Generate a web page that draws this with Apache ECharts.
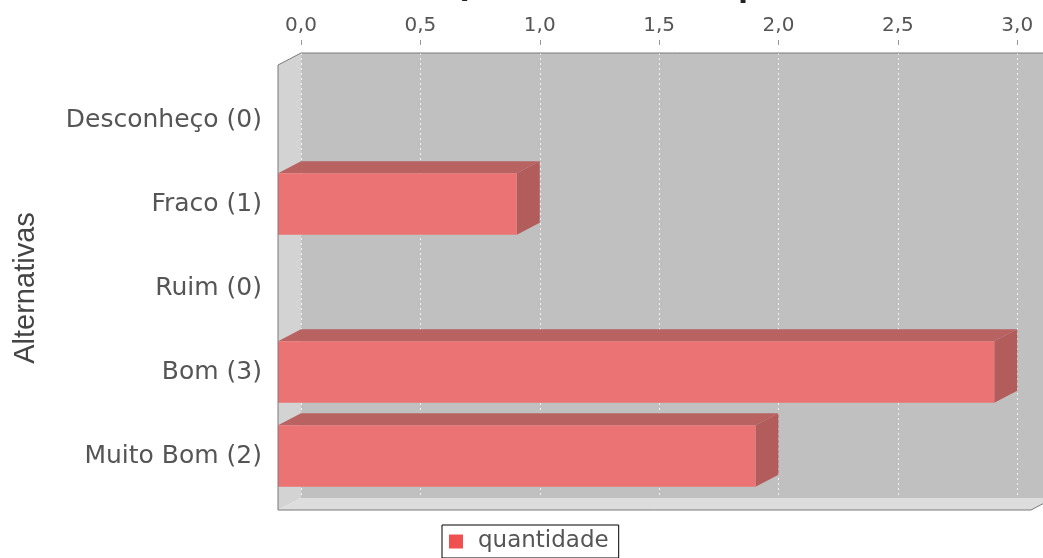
<!DOCTYPE html>
<html>
<head>
<meta charset="utf-8">
<script src="https://cdn.jsdelivr.net/npm/echarts@6/dist/echarts.min.js"></script>
<style>
  html, body { margin: 0; padding: 0; background: #fff; }
  #chart { width: 1043px; height: 558px; }
</style>
</head>
<body>
<div id="chart"></div>
<script>
const categories = ['Desconheço (0)', 'Fraco (1)', 'Ruim (0)', 'Bom (3)', 'Muito Bom (2)']
const quantidade = [0, 1, 0, 3, 2]
const axisMax = 3.2

// 3d offset of the back wall
const DX = 23
const DY = 12

const chart = echarts.init(document.getElementById('chart'))

function fmt(v) {
  if (Math.abs(v * 2 - Math.round(v * 2)) > 1e-6) return ''
  return v.toFixed(1).replace('.', ',')
}

function renderBar(params, api) {
  const v = api.value(0)
  if (!v) return
  const p0 = api.coord([0, api.value(1)])
  const p1 = api.coord([v, api.value(1)])
  const h = api.size([0, 1])[1] * 0.73
  const x0 = p0[0], x1 = p1[0]
  const y0 = p0[1] - h / 2, y1 = p0[1] + h / 2
  return {
    type: 'group',
    children: [
      {
        type: 'polygon',
        shape: { points: [[x0, y0], [x1, y0], [x1 + DX, y0 - DY], [x0 + DX, y0 - DY]] },
        style: { fill: '#b86262' }
      },
      {
        type: 'polygon',
        shape: { points: [[x1, y0], [x1 + DX, y0 - DY], [x1 + DX, y1 - DY], [x1, y1]] },
        style: { fill: '#b35c5c' }
      },
      {
        type: 'rect',
        shape: { x: x0, y: y0, width: x1 - x0, height: y1 - y0 },
        style: { fill: '#ec7373' }
      }
    ]
  }
}

const backLeft = 301, backTop = 53, backBottom = 498
const width = 764 // 3.2 units
const frontLeft = backLeft - DX, frontTop = backTop + DY, frontBottom = backBottom + DY
const frontRight = 1031 // plot edge (range ends at ~3.15)

chart.setOption({
  animation: false,
  textStyle: { fontFamily: 'DejaVu Sans' },
  graphic: [
    {
      type: 'text', z: 10,
      style: {
        x: 645, y: 4, text: 'Quantidade de respostas', textAlign: 'center', textVerticalAlign: 'bottom',
        font: 'bold 28px "DejaVu Sans"', fill: '#222'
      }
    },
    { // left wall
      type: 'polygon', z: 0,
      shape: { points: [[frontLeft, frontTop], [backLeft, backTop], [backLeft, backBottom], [frontLeft, frontBottom]] },
      style: { fill: '#d3d3d3' }
    },
    { // floor
      type: 'polygon', z: 0,
      shape: { points: [[frontLeft, frontBottom], [backLeft, backBottom], [frontRight + DX, backBottom], [frontRight, frontBottom]] },
      style: { fill: '#dddddd' }
    },
    { // outline
      type: 'polyline', z: 5,
      shape: { points: [[frontRight + DX, backBottom], [frontRight, frontBottom], [frontLeft, frontBottom], [frontLeft, frontTop], [backLeft, backTop], [backLeft + width, backTop]] },
      style: { stroke: '#7a7a7a', lineWidth: 1, fill: null }
    }
  ],
  legend: {
    data: ['quantidade'],
    left: 442,
    top: 525,
    borderColor: '#000',
    borderWidth: 1,
    padding: [5, 10, 5, 7],
    itemWidth: 14,
    itemHeight: 14,
    icon: 'rect',
    itemStyle: { color: '#f05050' },
    textStyle: { fontSize: 23, color: '#555', padding: [0, 0, 0, 10] }
  },
  grid: [
    {
      left: backLeft, top: backTop, width: width, height: backBottom - backTop,
      outerBoundsMode: 'none', containLabel: false,
      show: true, backgroundColor: '#c0c0c0', borderWidth: 0
    },
    {
      left: frontLeft, top: 78, width: width, height: 420,
      outerBoundsMode: 'none', containLabel: false
    }
  ],
  xAxis: [
    {
      gridIndex: 0,
      type: 'value',
      position: 'top',
      offset: 8,
      min: 0,
      max: axisMax,
      interval: 0.5,
      axisLine: { show: false },
      axisTick: { show: true, length: 5, lineStyle: { color: '#999' } },
      axisLabel: { formatter: fmt, fontSize: 20, color: '#555', margin: 9, showMaxLabel: false },
      splitLine: { show: true, lineStyle: { color: '#f2f2f2', type: [2, 3], width: 1 } }
    },
    {
      gridIndex: 1,
      type: 'value',
      min: 0,
      max: axisMax,
      interval: 0.5,
      show: false
    }
  ],
  yAxis: [
    {
      gridIndex: 0,
      type: 'category',
      data: categories,
      show: false
    },
    {
      gridIndex: 1,
      type: 'category',
      data: categories,
      inverse: true,
      axisLine: { show: false, onZero: false },
      axisTick: { show: false },
      axisLabel: { fontSize: 25, color: '#555', margin: 16 },
      name: 'Alternativas',
      nameLocation: 'middle',
      nameGap: 238,
      nameTextStyle: { fontFamily: 'Liberation Sans', fontSize: 29, color: '#444' }
    }
  ],
  series: [
    {
      name: 'quantidade',
      type: 'custom',
      xAxisIndex: 1,
      yAxisIndex: 1,
      itemStyle: { color: '#f05050' },
      encode: { x: 0, y: 1 },
      data: quantidade.map((v, i) => [v, i]),
      renderItem: renderBar,
      z: 3
    }
  ]
})
</script>
</body>
</html>
